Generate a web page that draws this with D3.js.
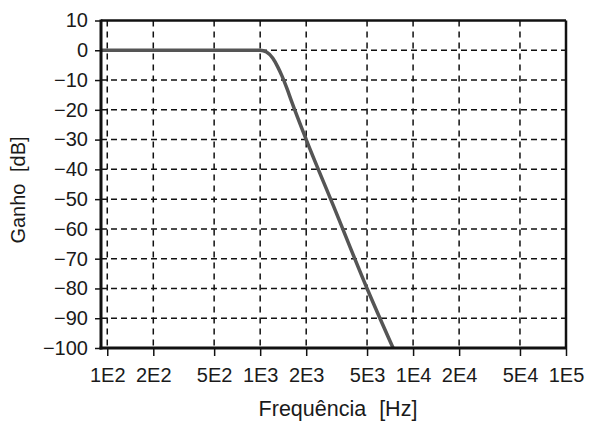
<!DOCTYPE html>
<html><head><meta charset="utf-8">
<script src="https://cdn.jsdelivr.net/npm/d3@7"></script>
<style>
html,body{margin:0;padding:0;background:#fff;}
svg{display:block;}
text{font-family:"Liberation Sans",Arial,Helvetica,sans-serif;fill:#1a1a1a;}
</style></head>
<body><svg id="c" width="589" height="422"></svg>
<script>
// Data
const freqTicks = [1e2, 2e2, 5e2, 1e3, 2e3, 5e3, 1e4, 2e4, 5e4, 1e5];
const freqTickLabels = ["1E2","2E2","5E2","1E3","2E3","5E3","1E4","2E4","5E4","1E5"];
const gainTicks = [10, 0, -10, -20, -30, -40, -50, -60, -70, -80, -90, -100];
const freqHz = [91, 200, 500, 1000, 1100, 1210, 1300, 1390, 1500, 1600, 2000, 3000, 5000, 7400];
const gainDb = [0, 0, 0, 0, -0.6, -2.7, -5.5, -8.7, -13, -17, -30, -52, -80, -100];

const svg = d3.select("#c");
const L = 101, R = 566, T = 20.5, B = 348;
const x = d3.scaleLog().domain([91, 1e5]).range([L, R]);
const y = d3.scaleLinear().domain([-100, 10]).range([B, T]);

// grid
const g = svg.append("g");
g.selectAll("line.v").data(freqTicks.slice(0, -1)).join("line")
  .attr("x1", d => x(d)).attr("x2", d => x(d)).attr("y1", T).attr("y2", B)
  .attr("stroke", "#111").attr("stroke-width", 1.5).attr("stroke-dasharray", "6,5");
g.selectAll("line.h").data(gainTicks.slice(1, -1)).join("line")
  .attr("x1", L).attr("x2", R).attr("y1", d => y(d)).attr("y2", d => y(d))
  .attr("stroke", "#111").attr("stroke-width", 1.5).attr("stroke-dasharray", "6,4");

// curve
const pts = freqHz.map((f, i) => [f, gainDb[i]]);
svg.append("path").datum(pts)
  .attr("d", d3.line().x(d => x(d[0])).y(d => y(d[1])).curve(d3.curveMonotoneX))
  .attr("fill", "none").attr("stroke", "#555").attr("stroke-width", 3.5);

// axes
const xAxis = d3.axisBottom(x).tickValues(freqTicks)
  .tickFormat((d, i) => freqTickLabels[i]).tickSize(8).tickPadding(12);
const xa = svg.append("g").attr("transform", `translate(0,${B})`).call(xAxis);
xa.select(".domain").remove();
xa.selectAll(".tick line").attr("stroke", "#111").attr("stroke-width", 1.5);
xa.selectAll(".tick text").attr("font-size", 20).style("fill", "#1a1a1a")
  .attr("font-family", "Liberation Sans, Arial, sans-serif");

const yAxis = d3.axisLeft(y).tickValues(gainTicks)
  .tickFormat(d => d < 0 ? "\u2212" + Math.abs(d) : String(d)).tickSize(6).tickPadding(7);
const ya = svg.append("g").attr("transform", `translate(${L},0)`).call(yAxis);
ya.select(".domain").remove();
ya.selectAll(".tick line").attr("stroke", "#111").attr("stroke-width", 1.5);
ya.selectAll(".tick text").attr("font-size", 20).style("fill", "#1a1a1a")
  .attr("font-family", "Liberation Sans, Arial, sans-serif");

// frame
svg.append("line").attr("x1", L).attr("x2", R).attr("y1", T).attr("y2", T).attr("stroke", "#111").attr("stroke-width", 2.5);
svg.append("line").attr("x1", R).attr("x2", R).attr("y1", T).attr("y2", B).attr("stroke", "#111").attr("stroke-width", 2.5);
svg.append("line").attr("x1", L).attr("x2", L).attr("y1", T - 1).attr("y2", B + 1.5).attr("stroke", "#111").attr("stroke-width", 3);
svg.append("line").attr("x1", L - 1.5).attr("x2", R + 1).attr("y1", B).attr("y2", B).attr("stroke", "#111").attr("stroke-width", 3);

// titles
svg.append("text").attr("x", 338).attr("y", 416).attr("text-anchor", "middle")
  .attr("font-size", 21.5).style("word-spacing", "7px").text("Frequência [Hz]");
svg.append("text").attr("transform", "translate(25,190) rotate(-90)").attr("text-anchor", "middle")
  .attr("font-size", 20).style("word-spacing", "6px").text("Ganho [dB]");
</script></body></html>
